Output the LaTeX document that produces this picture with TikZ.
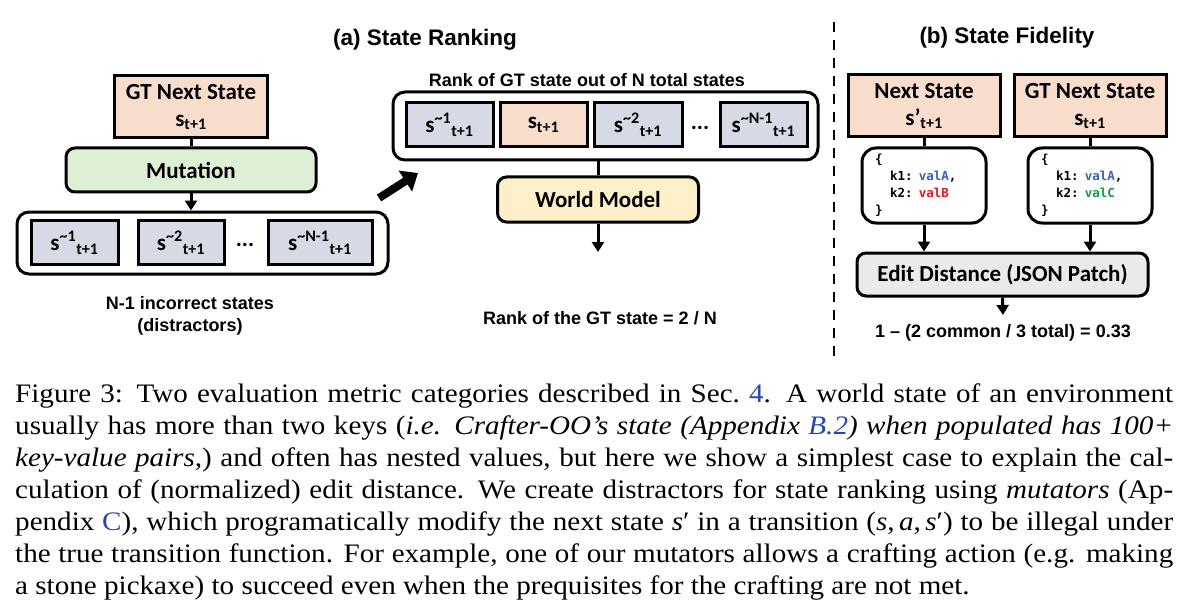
\documentclass[tikz,border=0pt]{standalone}
\usepackage{fontspec}
\setmainfont{Liberation Serif}[FakeStretch=1.09]
\newfontfamily\calfont{Carlito}
\newfontfamily\arialfont{Liberation Sans}
\newfontfamily\codefont{DejaVu Sans Mono}
\usetikzlibrary{arrows.meta,positioning}
\definecolor{stpeach}{RGB}{248,221,204}
\definecolor{stgreen}{RGB}{221,240,214}
\definecolor{styellow}{RGB}{253,240,200}
\definecolor{stslate}{RGB}{214,218,228}
\definecolor{stgray}{RGB}{234,234,234}
\definecolor{valblue}{RGB}{55,95,190}
\definecolor{valred}{RGB}{228,20,40}
\definecolor{valgreen}{RGB}{20,155,70}
\definecolor{linkblue}{RGB}{40,70,170}
\tikzstyle{box} = [draw, line width=3pt, inner sep=0pt, align=center, font=\calfont\bfseries\fontsize{23}{27}\selectfont]
\tikzstyle{rbox} = [box, rounded corners=9pt]
\tikzstyle{sbox} = [box, fill=stslate, minimum height=44pt]
\tikzstyle{jbox} = [draw, line width=3pt, rounded corners=14pt, minimum width=124pt, minimum height=75pt, text width=98pt, inner xsep=13pt, align=left, font=\codefont\bfseries\fontsize{12.5}{17}\selectfont]
\tikzstyle{lbl} = [font=\arialfont\bfseries\fontsize{18}{22}\selectfont, align=center]
\tikzstyle{ttl} = [font=\arialfont\bfseries\fontsize{22.5}{26}\selectfont]
\tikzstyle{arrow} = [line width=3pt, -{Triangle[length=10pt,width=12pt]}]
\newcommand{\snext}{s\textsubscript{t+1}}
\newcommand{\spred}{s’\textsubscript{t+1}}
\newcommand{\sdist}[1]{s\textsuperscript{\textasciitilde#1}\textsubscript{t+1}}

\begin{document}
\begin{tikzpicture}[x=1pt, y=-1pt]
    \useasboundingbox (0,0) rectangle (1200,607);

    % (a) State Ranking
    \node[ttl] (ttla) at (425,40) {(a) State Ranking};

    % Mutation branch
    \node[box, fill=stpeach, minimum width=153pt, minimum height=62pt] (gtA) at (191,107) {GT Next State\\\snext};
    \node[rbox, fill=stgreen, minimum width=250pt, minimum height=44pt] (mut) at (191,170) {Mutation};
    \node[box, rounded corners=12pt, minimum width=371pt, minimum height=62pt] (dist) at (202.5,243) {};
    \node[sbox, minimum width=87pt] (d1) at (74.5,242.5) {\sdist{1}};
    \node[sbox, minimum width=86pt] (d2) at (181,242.5) {\sdist{2}};
    \node[box, draw=none] (ddots) at (245,245) {...};
    \node[sbox, minimum width=104pt] (d3) at (320,242.5) {\sdist{N-1}};
    \node[lbl] (distlbl) at (190,316) {N-1 incorrect states\\(distractors)};

    \draw[line width=3pt] (gtA) -- (mut);
    \draw[arrow] (mut.south) -- (mut.south |- dist.north);

    % Ranking branch
    \node[lbl] (ranklbl) at (587,80) {Rank of GT state out of N total states};
    \node[box, rounded corners=12pt, minimum width=425pt, minimum height=68pt] (rank) at (605.5,126) {};
    \node[sbox, minimum width=87pt] (r1) at (449.5,125) {\sdist{1}};
    \node[sbox, fill=stpeach, minimum width=87pt] (r2) at (543.5,125) {\snext};
    \node[sbox, minimum width=88pt] (r3) at (638,125) {\sdist{2}};
    \node[box, draw=none] (rdots) at (700,128) {...};
    \node[sbox, minimum width=87pt] (r4) at (763.5,125) {\sdist{N-1}};
    \node[rbox, fill=styellow, minimum width=201pt, minimum height=45pt] (wm) at (598,199.5) {World Model};
    \coordinate (wmend) at (598,252);
    \node[lbl] (rankres) at (600,318) {Rank of the GT state = 2 / N};

    \draw[line width=3pt] (wm.north |- rank.south) -- (wm.north);
    \draw[arrow] (wm.south) -- (wmend);

    % hand-over arrow
    \coordinate (bigtail) at (379,198);
    \coordinate (bighead) at (418,173);
    \draw[line width=8pt, -{Triangle[length=15pt,width=24pt]}] (bigtail) -- (bighead);

    % separator
    \coordinate (sepTop) at (834,22);
    \coordinate (sepBot) at (834,358);
    \draw[line width=2.5pt, dash pattern=on 10pt off 8pt] (sepTop) -- (sepBot);

    % (b) State Fidelity
    \node[ttl] (ttlb) at (1007,38) {(b) State Fidelity};
    \node[box, fill=stpeach, minimum width=152pt, minimum height=62pt] (ns) at (924,106) {Next State\\\spred};
    \node[box, fill=stpeach, minimum width=152pt, minimum height=62pt] (gtB) at (1090,106) {GT Next State\\\snext};
    \node[jbox] (j1) at (924,185.5) {\{\\\hspace*{15pt}k1: \textcolor{valblue}{valA},\\\hspace*{15pt}k2: \textcolor{valred}{valB}\\\}};
    \node[jbox] (j2) at (1090,185.5) {\{\\\hspace*{15pt}k1: \textcolor{valblue}{valA},\\\hspace*{15pt}k2: \textcolor{valgreen}{valC}\\\}};
    \node[rbox, fill=stgray, minimum width=291pt, minimum height=43pt] (edit) at (1002.5,274.5) {Edit Distance (JSON Patch)};
    \coordinate (editend) at (1003,315);
    \node[lbl] (fidres) at (1003,333) {1 – (2 common / 3 total) = 0.33};

    \draw[line width=3pt] (ns) -- (j1);
    \draw[line width=3pt] (gtB) -- (j2);
    \draw[arrow] (j1.south) -- (j1.south |- edit.north);
    \draw[arrow] (j2.south) -- (j2.south |- edit.north);
    \draw[arrow] (edit.south) -- (editend);

    % Caption
    \node[anchor=base west, text width=1158pt, inner sep=0pt, align=justify,
          font=\fontsize{26.7}{32}\selectfont] (caption) at (15,402)
    {\tolerance=10000 Figure 3: Two evaluation metric categories described in Sec.\ \textcolor{linkblue}{4}. A world state of an environment\linebreak
     usually has more than two keys (\textit{i.e. Crafter-OO’s state (Appendix \textcolor{linkblue}{B.2}) when populated has 100+}\linebreak
     \textit{key-value pairs,}) and often has nested values, but here we show a simplest case to explain the cal-\linebreak
     culation of (normalized) edit distance. We create distractors for state ranking using \textit{mutators} (Ap-\linebreak
     pendix \textcolor{linkblue}{C}), which programatically modify the next state \textit{s}′ in a transition (\textit{s},\,\textit{a},\,\textit{s}′) to be illegal under\linebreak
     the true transition function. For example, one of our mutators allows a crafting action (e.g. making\linebreak
     a stone pickaxe) to succeed even when the prequisites for the crafting are not met.};
\end{tikzpicture}
\end{document}
